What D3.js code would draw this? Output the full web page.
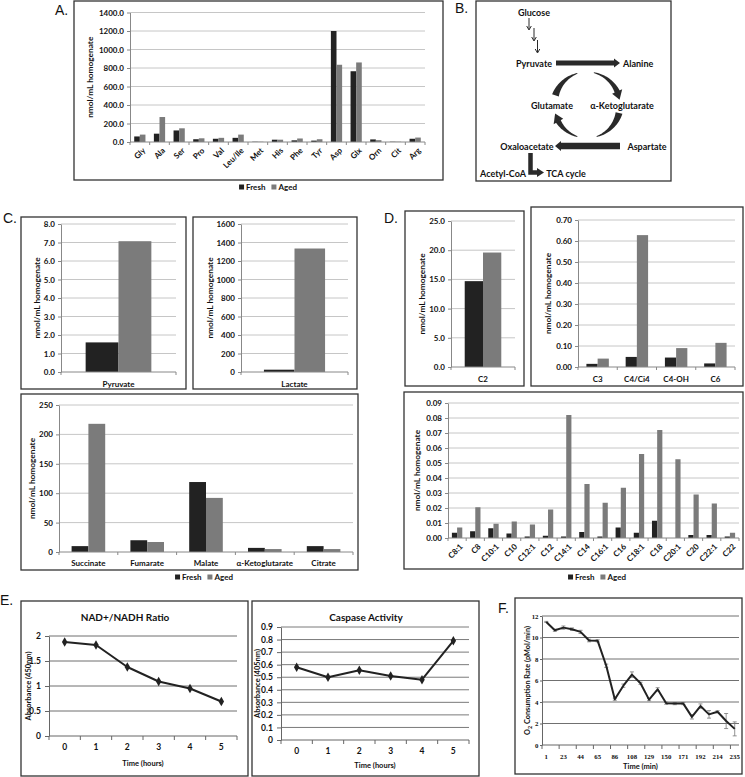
<!DOCTYPE html>
<html><head><meta charset="utf-8">
<script src="https://cdn.jsdelivr.net/npm/d3@7"></script>
<style>body{margin:0;background:#fff;}</style>
</head><body>
<svg id="fig" width="745" height="777"></svg>
<script>
// ---------------- DATA ----------------
const seriesNames = ["Fresh", "Aged"];
const seriesColors = ["#222222", "#7b7b7b"];

const aminoAcids = ["Gly","Ala","Ser","Pro","Val","Leu/Ile","Met","His","Phe","Tyr","Asp","Glx","Orn","Cit","Arg"];
const aminoFresh = [60, 90, 125, 30, 35, 45, 3, 25, 18, 15, 1200, 765, 28, 3, 35];
const aminoAged  = [80, 270, 148, 40, 45, 80, 3, 25, 38, 30, 835, 860, 20, 3, 48];
const aminoTicks = [0, 200, 400, 600, 800, 1000, 1200, 1400];

const pathwayNames = ["Glucose","Pyruvate","Alanine","Glutamate","α-Ketoglutarate","Oxaloacetate","Aspartate","Acetyl-CoA","TCA cycle"];

const pyruvateCats = ["Pyruvate"];
const pyruvateFresh = [1.6];
const pyruvateAged = [7.07];
const pyruvateTicks = [0, 1, 2, 3, 4, 5, 6, 7, 8];

const lactateCats = ["Lactate"];
const lactateFresh = [25];
const lactateAged = [1335];
const lactateTicks = [0, 200, 400, 600, 800, 1000, 1200, 1400, 1600];

const tcaCats = ["Succinate","Fumarate","Malate","α-Ketoglutarate","Citrate"];
const tcaFresh = [10, 20, 119, 7, 10];
const tcaAged  = [218, 17, 92, 5, 5];
const tcaTicks = [0, 50, 100, 150, 200, 250];

const c2Cats = ["C2"];
const c2Fresh = [14.7];
const c2Aged = [19.6];
const c2Ticks = [0, 5, 10, 15, 20, 25];

const shortCats = ["C3","C4/Ci4","C4-OH","C6"];
const shortFresh = [0.015, 0.048, 0.045, 0.017];
const shortAged  = [0.040, 0.628, 0.090, 0.115];
const shortTicks = [0, 0.1, 0.2, 0.3, 0.4, 0.5, 0.6, 0.7];

const longCats = ["C8:1","C8","C10:1","C10","C12:1","C12","C14:1","C14","C16:1","C16","C18:1","C18","C20:1","C20","C22:1","C22"];
const longFresh = [0.0035, 0.0045, 0.0065, 0.003, 0.001, 0.0015, 0.001, 0.004, 0.001, 0.007, 0.0035, 0.0115, 0.0, 0.002, 0.002, 0.001];
const longAged  = [0.007, 0.0205, 0.0095, 0.011, 0.009, 0.019, 0.082, 0.036, 0.0235, 0.0335, 0.056, 0.072, 0.0525, 0.029, 0.023, 0.0035];
const longTicks = [0, 0.01, 0.02, 0.03, 0.04, 0.05, 0.06, 0.07, 0.08, 0.09];

const hours = ["0","1","2","3","4","5"];
const nadRatio = [1.88, 1.82, 1.38, 1.09, 0.95, 0.69];
const nadTicks = [0, 0.5, 1, 1.5, 2];
const caspase = [0.58, 0.50, 0.555, 0.51, 0.48, 0.79];
const caspaseTicks = [0, 0.1, 0.2, 0.3, 0.4, 0.5, 0.6, 0.7, 0.8, 0.9];

const o2Times = ["1","12","23","33","44","54","65","75","86","97","108","118","129","139","150","160","171","181","192","203","214","224","235"];
const o2Rate = [11.45, 10.67, 10.92, 10.77, 10.52, 9.72, 9.69, 7.37, 4.26, 5.52, 6.55, 5.74, 4.22, 5.18, 3.89, 3.85, 3.85, 2.62, 3.62, 2.85, 3.09, 2.23, 1.5];
const o2Err  = [0.05, 0.1, 0.15, 0.12, 0.15, 0.12, 0.1, 0.15, 0.1, 0.15, 0.25, 0.1, 0.1, 0.15, 0.1, 0.1, 0.1, 0.2, 0.2, 0.35, 0.1, 0.7, 0.65];
const o2Ticks = [0, 2, 4, 6, 8, 10, 12];

// ---------------- HELPERS ----------------
const svg = d3.select("#fig");
const FF = "Lato, 'Open Sans', sans-serif";
const SERIF = "'Liberation Serif', 'DejaVu Serif', serif";
const TEXT = "#111";
const colorOf = d3.scaleOrdinal().domain(seriesNames).range(seriesColors);

function txt(g, x, y, s, size, opts = {}) {
  const t = g.append("text").attr("x", x).attr("y", y).text(s)
    .attr("font-family", opts.family || FF)
    .attr("font-weight", opts.weight || "bold")
    .attr("font-size", size).attr("fill", opts.fill || TEXT)
    .attr("text-anchor", opts.anchor || "middle")
    .attr("dominant-baseline", opts.baseline || "central");
  if (opts.rotate) t.attr("transform", `rotate(${opts.rotate},${x},${y})`);
  return t;
}
function frame(g, b) {
  g.append("rect").attr("x", b[0]).attr("y", b[1]).attr("width", b[2] - b[0]).attr("height", b[3] - b[1])
    .attr("fill", "none").attr("stroke", "#333").attr("stroke-width", 1.3);
}
function panelLetter(x, y, s) {
  txt(svg, x, y, s, 14, {anchor: "start", baseline: "alphabetic", family: "'Liberation Sans', Arial, sans-serif", weight: "normal", fill: "#111"});
}
function styleAxis(a, fs, col, family) {
  a.attr("font-family", family || FF).attr("font-weight", "bold").attr("font-size", fs).attr("color", TEXT);
  a.select(".domain").attr("stroke", col || "#888");
  a.selectAll(".tick line").attr("stroke", col || "#888");
}
function legend(g, cx, cy) {
  const lg = g.append("g");
  let xpos = 0;
  seriesNames.forEach((n, i) => {
    lg.append("rect").attr("x", xpos).attr("y", -2.5).attr("width", 5).attr("height", 5).attr("fill", colorOf(n));
    const t = txt(lg, xpos + 7, 0, n, 8, {anchor: "start"});
    xpos += 7 + t.node().getComputedTextLength() + 6;
  });
  lg.attr("transform", `translate(${cx - (xpos - 6) / 2},${cy})`);
}

function barPanel(o) {
  const g = svg.append("g");
  frame(g, o.box);
  const x = d3.scaleBand().domain(o.cats).range([o.px0, o.px1]);
  const y = d3.scaleLinear().domain([0, d3.max(o.ticks)]).range([o.py0, o.py1]);
  const sub = d3.scaleBand().domain(seriesNames).range([0, x.bandwidth()]).paddingOuter(0.75);
  g.append("g").selectAll("line").data(o.ticks.filter(t => t > 0)).join("line")
    .attr("x1", o.px0).attr("x2", o.px1).attr("y1", d => y(d)).attr("y2", d => y(d))
    .attr("stroke", "#c6c6c6").attr("stroke-width", 1);
  const rows = o.cats.map((c, i) => ({cat: c, vals: [o.fresh[i], o.aged[i]]}));
  g.append("g").selectAll("g").data(rows).join("g")
    .attr("transform", d => `translate(${x(d.cat)},0)`)
    .selectAll("rect").data(d => d.vals.map((v, j) => ({name: seriesNames[j], v})))
    .join("rect").attr("x", d => sub(d.name)).attr("width", sub.bandwidth())
    .attr("y", d => y(d.v)).attr("height", d => y(0) - y(d.v)).attr("fill", d => colorOf(d.name));
  const ya = g.append("g").attr("transform", `translate(${o.px0},0)`)
    .call(d3.axisLeft(y).tickValues(o.ticks).tickFormat(o.fmt).tickSize(3).tickSizeOuter(0).tickPadding(3));
  styleAxis(ya, o.fs);
  g.append("line").attr("x1", o.px0).attr("x2", o.px1).attr("y1", y(0)).attr("y2", y(0)).attr("stroke", "#888");
  const bounds = o.cats.map(c => x(c)).concat([o.px1]);
  g.append("g").selectAll("line").data(bounds).join("line")
    .attr("x1", d => d).attr("x2", d => d).attr("y1", y(0)).attr("y2", y(0) + 3).attr("stroke", "#888");
  o.cats.forEach(c => {
    const cx = x(c) + x.bandwidth() / 2;
    if (o.rotate) txt(g, cx + 4, y(0) + 7, c, o.fs, {anchor: "end", rotate: -45});
    else txt(g, cx, o.catY, c, o.cfs || o.fs);
  });
  txt(g, o.titleX, (o.py0 + o.py1) / 2, "nmol/mL homogenate", o.tfs || 8.3, {rotate: -90});
  if (o.legend) legend(g, o.legend[0], o.legend[1]);
}

function linePanel(o) {
  const g = svg.append("g");
  frame(g, o.box);
  if (o.title) txt(g, o.titleX, o.titleY, o.title, 10);
  const x = d3.scaleBand().domain(o.cats).range([o.px0, o.px1]);
  const y = d3.scaleLinear().domain([0, d3.max(o.ticks)]).range([o.py0, o.py1]);
  g.append("g").selectAll("line").data(o.ticks.filter(t => t > 0)).join("line")
    .attr("x1", o.px0).attr("x2", o.px1).attr("y1", d => y(d)).attr("y2", d => y(d))
    .attr("stroke", o.gridColor).attr("stroke-width", 1);
  const ya = g.append("g").attr("transform", `translate(${o.px0},0)`)
    .call(d3.axisLeft(y).tickValues(o.ticks).tickFormat(o.fmt).tickSize(o.tickSize).tickSizeOuter(0).tickPadding(o.tickPad));
  styleAxis(ya, o.fs, "#666", o.tickFamily);
  g.append("line").attr("x1", o.px0).attr("x2", o.px1).attr("y1", y(0)).attr("y2", y(0)).attr("stroke", "#666");
  const bounds = o.cats.map(c => x(c)).concat([o.px1]).filter((d, i) => i % o.labelEvery === 0);
  g.append("g").selectAll("line").data(bounds).join("line")
    .attr("x1", d => d).attr("x2", d => d).attr("y1", y(0)).attr("y2", y(0) + 4).attr("stroke", "#666");
  const cxOf = c => x(c) + x.bandwidth() / 2;
  o.cats.forEach((c, i) => { if (i % o.labelEvery === 0) txt(g, cxOf(c), o.labelY, c, o.xfs || o.fs, {family: o.tickFamily}); });
  const pts = o.cats.map((c, i) => ({c, v: o.values[i], e: o.err ? o.err[i] : 0}));
  if (o.err) {
    const eb = g.append("g").attr("stroke", "#777").attr("stroke-width", 0.8);
    eb.selectAll(".v").data(pts).join("line").attr("x1", d => cxOf(d.c)).attr("x2", d => cxOf(d.c))
      .attr("y1", d => y(d.v - d.e)).attr("y2", d => y(d.v + d.e));
    eb.selectAll(".t").data(pts).join("line").attr("x1", d => cxOf(d.c) - 2).attr("x2", d => cxOf(d.c) + 2)
      .attr("y1", d => y(d.v + d.e)).attr("y2", d => y(d.v + d.e));
    eb.selectAll(".b").data(pts).join("line").attr("x1", d => cxOf(d.c) - 2).attr("x2", d => cxOf(d.c) + 2)
      .attr("y1", d => y(d.v - d.e)).attr("y2", d => y(d.v - d.e));
  }
  g.append("path").datum(pts).attr("fill", "none").attr("stroke", "#222").attr("stroke-width", 2)
    .attr("stroke-linejoin", "round")
    .attr("d", d3.line().x(d => cxOf(d.c)).y(d => y(d.v)));
  if (o.marker) {
    g.append("g").selectAll("path").data(pts).join("path")
      .attr("transform", d => `translate(${cxOf(d.c)},${y(d.v)})`)
      .attr("d", d3.symbol(d3.symbolDiamond, 26)).attr("fill", "#222");
  }
  txt(g, (o.px0 + o.px1) / 2, o.xTitleY, o.xTitle, o.tfs);
  if (o.yTitleNode) o.yTitleNode(g, o.yTitleX, (o.py0 + o.py1) / 2);
  else txt(g, o.yTitleX, (o.py0 + o.py1) / 2, o.yTitle, o.tfs, {rotate: -90});
}

// ---------------- PANEL A ----------------
panelLetter(55, 15, "A.");
barPanel({box: [74, 1, 443, 180], px0: 130, px1: 425, py0: 142, py1: 12.5,
  cats: aminoAcids, fresh: aminoFresh, aged: aminoAged, ticks: aminoTicks, fmt: d3.format(".1f"),
  fs: 8, rotate: true, titleX: 90, legend: [268, 187]});

// ---------------- PANEL B ----------------
panelLetter(455, 13, "B.");
(function () {
  const g = svg.append("g");
  frame(g, [476, 1, 671, 181]);
  const fs = 9;
  const N = pathwayNames;
  txt(g, 534, 12, N[0], fs);
  txt(g, 534, 63, N[1], fs);
  txt(g, 623, 63, N[2], fs, {anchor: "start"});
  txt(g, 552, 105, N[3], fs);
  txt(g, 622, 105, N[4], fs);
  txt(g, 527, 146, N[5], fs);
  txt(g, 647, 146, N[6], fs);
  txt(g, 503, 173, N[7], fs);
  txt(g, 566, 173, N[8], fs);
  const col = "#2a2a2a";
  // small arrows
  [[529, 18, 30], [534, 28, 41], [537.5, 40, 53]].forEach(a => {
    g.append("line").attr("x1", a[0]).attr("x2", a[0]).attr("y1", a[1]).attr("y2", a[2] - 1).attr("stroke", col).attr("stroke-width", 1);
    g.append("path").attr("d", `M${a[0] - 2.3},${a[2] - 4}L${a[0]},${a[2]}L${a[0] + 2.3},${a[2] - 4}`).attr("fill", "none").attr("stroke", col).attr("stroke-width", 1);
  });
  function hArrow(x1, x2, yy, w, hl, hw) {
    const s = Math.sign(x2 - x1), xb = x2 - s * hl;
    const p = [[x1, yy - w / 2], [xb, yy - w / 2], [xb, yy - hw], [x2, yy], [xb, yy + hw], [xb, yy + w / 2], [x1, yy + w / 2]];
    g.append("path").attr("d", "M" + p.join("L") + "Z").attr("fill", col);
  }
  hArrow(556, 620, 63, 5, 6, 4.5);
  hArrow(620, 555, 146, 6.5, 6, 5);
  g.append("path").attr("d", "M530.5,153V172.5H538").attr("fill", "none").attr("stroke", col).attr("stroke-width", 4.5);
  g.append("path").attr("d", "M537,168L544,172.5L537,177Z").attr("fill", col);
  // curved tapered arrows around the Glu / α-KG pair
  const cx = 587, cy = 105, r = 33, R = Math.PI / 180;
  const P = (a, rr) => [cx + rr * Math.cos(a * R), cy + rr * Math.sin(a * R)];
  function crescent(a0, a1, w0, w1) {
    const n = 24, outer = [], inner = [];
    for (let i = 0; i <= n; i++) {
      const t = i / n, a = a0 + (a1 - a0) * t, w = w0 + (w1 - w0) * t;
      outer.push(P(a, r + w / 2)); inner.push(P(a, r - w / 2));
    }
    g.append("path").attr("d", "M" + outer.concat(inner.reverse()).join("L") + "Z").attr("fill", col);
  }
  function head(aBase, aTip, hw) {
    g.append("path").attr("d", "M" + [P(aBase, r + hw), P(aTip, r), P(aBase, r - hw)].join("L") + "Z").attr("fill", col);
  }
  crescent(197, 253, 7, 0.8);
  crescent(282, 337, 0.8, 5.5); head(336, 351, 5.5);
  crescent(14, 73, 7, 0.8);
  crescent(107, 151, 0.8, 5.5); head(150, 165, 5.5);
})();

// ---------------- PANEL C ----------------
panelLetter(3, 223, "C.");
barPanel({box: [21, 217, 186, 389], px0: 61, px1: 176, py0: 372, py1: 224,
  cats: pyruvateCats, fresh: pyruvateFresh, aged: pyruvateAged, ticks: pyruvateTicks, fmt: d3.format(".1f"),
  fs: 8, catY: 384, titleX: 37});
barPanel({box: [193, 217, 357, 389], px0: 241, px1: 348, py0: 372, py1: 224,
  cats: lactateCats, fresh: lactateFresh, aged: lactateAged, ticks: lactateTicks, fmt: d3.format("d"),
  fs: 8, catY: 384, titleX: 210});
barPanel({box: [21, 394, 358, 570], px0: 59, px1: 353, py0: 552, py1: 405,
  cats: tcaCats, fresh: tcaFresh, aged: tcaAged, ticks: tcaTicks, fmt: d3.format("d"),
  fs: 8, catY: 563, titleX: 32, legend: [204, 577]});

// ---------------- PANEL D ----------------
panelLetter(384, 223, "D.");
barPanel({box: [405, 211, 524, 386], px0: 451, px1: 515, py0: 367, py1: 221,
  cats: c2Cats, fresh: c2Fresh, aged: c2Aged, ticks: c2Ticks, fmt: d3.format(".1f"),
  fs: 8, catY: 379, titleX: 422});
barPanel({box: [531, 207, 743, 386], px0: 578, px1: 735, py0: 367, py1: 220,
  cats: shortCats, fresh: shortFresh, aged: shortAged, ticks: shortTicks, fmt: d3.format(".2f"),
  fs: 8, catY: 379, titleX: 548});
barPanel({box: [404, 392, 743, 569], px0: 448, px1: 739, py0: 538, py1: 403,
  cats: longCats, fresh: longFresh, aged: longAged, ticks: longTicks, fmt: d3.format(".2f"),
  fs: 8, rotate: true, titleX: 417, legend: [597, 577]});

// ---------------- PANEL E ----------------
panelLetter(0, 605, "E.");
linePanel({box: [21, 601, 248, 776], px0: 49, px1: 237, py0: 736, py1: 636,
  cats: hours, values: nadRatio, ticks: nadTicks, fmt: d => String(d), gridColor: "#6e6e6e",
  fs: 8.5, tickSize: 4, tickPad: 4, labelEvery: 1, labelY: 747, marker: true, title: "NAD+/NADH Ratio", titleX: 125, titleY: 617,
  xTitle: "Time (hours)", xTitleY: 763, yTitle: "Absorbance (450nm)", yTitleX: 28, tfs: 7.5});
linePanel({box: [252, 601, 479, 776], px0: 281, px1: 469, py0: 740, py1: 627,
  cats: hours, values: caspase, ticks: caspaseTicks, fmt: d => String(d), gridColor: "#7a7a7a",
  fs: 8.5, tickSize: 4, tickPad: 4, labelEvery: 1, labelY: 751, marker: true, title: "Caspase Activity", titleX: 366, titleY: 617,
  xTitle: "Time (hours)", xTitleY: 765, yTitle: "Absorbance (405nm)", yTitleX: 257, tfs: 7.5});

// ---------------- PANEL F ----------------
panelLetter(498, 613, "F.");
linePanel({box: [515, 598, 742, 774], px0: 542, px1: 739, py0: 745, py1: 616,
  cats: o2Times, values: o2Rate, err: o2Err, ticks: o2Ticks, fmt: d => String(d), gridColor: "#707070",
  fs: 6.8, xfs: 6.8, tickSize: 2, tickPad: 1.5, tickFamily: SERIF, labelEvery: 2, labelY: 756, marker: false,
  xTitle: "Time (min)", xTitleY: 766, yTitleX: 527, tfs: 7.5,
  yTitleNode: (g, x, y) => {
    const t = g.append("text").attr("x", x).attr("y", y).attr("transform", `rotate(-90,${x},${y})`)
      .attr("font-family", FF).attr("font-weight", "bold").attr("font-size", 7.3).attr("fill", TEXT)
      .attr("text-anchor", "middle").attr("dominant-baseline", "central");
    t.append("tspan").text("O");
    t.append("tspan").text("2").attr("font-size", 5.5).attr("baseline-shift", "sub");
    t.append("tspan").text(" Consumption Rate (pMol/min)");
  }});
</script>
</body></html>
